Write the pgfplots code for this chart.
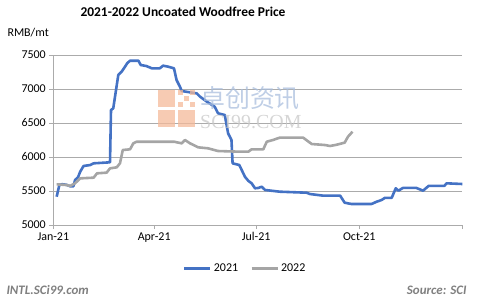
\documentclass[border=0pt]{standalone}
\usepackage{fontspec}
\setmainfont{Carlito}
\newfontfamily\cjk{Noto Sans CJK SC}
\newfontfamily\wmserif{Liberation Serif}
\usepackage{pgfplots}
\pgfplotsset{compat=1.18}
\definecolor{blue21}{HTML}{4472C4}
\definecolor{gray22}{HTML}{A5A5A5}
\definecolor{gridc}{HTML}{ABABAB}
\definecolor{wmorange}{HTML}{F4B999}
\definecolor{wmblue}{HTML}{A9BEDD}
\definecolor{wmgray}{HTML}{C8C8C8}
\definecolor{foot}{HTML}{7F7F7F}
\begin{document}
\begin{tikzpicture}[x=1bp,y=1bp]
\useasboundingbox (0,0) rectangle (482,307);
\begin{axis}[
  at={(53.3bp,82bp)}, anchor=south west,
  scale only axis, width=409bp, height=170bp,
  xmin=0, xmax=365, ymin=5000, ymax=7500,
  xtick={0,90,181,273,365},
  xticklabels={Jan-21,Apr-21,Jul-21,Oct-21,{}},
  ytick={5000,5500,6000,6500,7000,7500},
  axis x line*=bottom, axis y line*=left,
  axis line style={draw=gridc, line width=0.8bp},
  every tick/.style={draw=gridc, line width=0.8bp},
  tick align=outside, major tick length=4bp,
  ymajorgrids, major grid style={draw=gridc, line width=0.8bp},
  tick label style={font=\fontsize{12}{14}\selectfont},
  /pgf/number format/assume math mode=true,
  /pgf/number format/set thousands separator={},
  legend columns=2,
  legend style={at={(0.469,-0.253)}, anchor=center, draw=none, fill=none,
    font=\fontsize{12}{14}\selectfont, /tikz/every even column/.append style={column sep=10bp}},
  legend image code/.code={\draw[#1, line width=3bp] (0bp,0bp) -- (26bp,0bp);},
]
\addplot[blue21, line width=2.6bp, line join=round] coordinates {
(3,5416)(5.4,5588)(8,5600)(12,5590)(15,5570)(18,5570)(19.4,5662)(22,5700)
(24,5784)(27,5868)(33,5882)(36,5907)(50.6,5922)(51.5,6691)(53.5,6716)
(58,7206)(61,7255)(64,7328)(66,7380)(68.5,7416)(76,7416)(78,7353)(83,7338)
(88,7304)(95,7304)(98,7343)(102.6,7328)(107.7,7304)(110,7132)(113,7034)
(114.6,6970)(128,6936)(131,6887)(137,6814)(144,6740)(147,6642)(153,6618)
(156,6348)(159,6250)(160,5907)(166,5882)(171,5710)(174,5650)(177,5613)
(180,5540)(183,5545)(186,5563)(189,5515)(202,5490)(226,5475)(229,5456)
(241,5431)(256,5431)(260,5328)(266,5309)(284,5309)(288.6,5343)(293,5368)
(296,5400)(302,5400)(305.6,5540)(308,5505)(312,5545)(324,5545)(330,5505)
(335,5576)(349,5576)(351,5613)(365,5603)
};
\addlegendentry{2021}
\addplot[gray22, line width=2.6bp, line join=round] coordinates {
(3,5598)(12,5588)(15,5574)(19.4,5613)(24,5686)(36,5696)(39,5760)(47.6,5770)
(50.6,5833)(56.6,5848)(59.5,5907)(62,6103)(68.5,6113)(71.4,6201)(74.4,6225)
(98,6225)(107.7,6225)(114.6,6201)(117.5,6250)(122,6201)(129.4,6142)(138,6128)
(147,6088)(166.6,6078)(174,6078)(177,6113)(187.4,6113)(190.5,6225)(196,6250)
(202,6284)(223,6284)(230.6,6191)(242.5,6176)(247,6162)(253,6181)(260,6211)
(263,6299)(267,6372)
};
\addlegendentry{2022}
\end{axis}
% watermark
\begin{scope}[opacity=0.75]
\fill[wmorange] (158,180) rectangle (175,197);
\fill[wmorange] (178,180) rectangle (195,197);
\fill[wmorange] (158,200) rectangle (175,217);
\fill[wmorange] (178,200) rectangle (183,205);
\fill[wmorange] (184,206) rectangle (189,211);
\fill[wmorange] (190,200) rectangle (195,205);
\fill[wmorange] (178,212) rectangle (183,217);
\fill[wmorange] (190,212) rectangle (195,217);
\node[anchor=west, inner sep=0, text=wmblue, font=\cjk\fontsize{25}{27}\selectfont] at (200,209) {卓创资讯};
\node[anchor=west, inner sep=0, text=wmgray, font=\wmserif\fontsize{20}{22}\selectfont] at (200,185) {SCI99.COM};
\end{scope}
\node[font=\bfseries\fontsize{13.5}{16}\selectfont] at (183,295) {2021-2022 Uncoated Woodfree Price};
\node[anchor=west, font=\fontsize{12}{14}\selectfont] at (4,274) {RMB/mt};
\node[anchor=west, text=foot, font=\bfseries\itshape\fontsize{13}{15}\selectfont] at (3,17) {INTL.SCi99.com};
\node[anchor=east, text=foot, font=\bfseries\itshape\fontsize{13}{15}\selectfont] at (470,17) {Source: SCI};
\end{tikzpicture}
\end{document}
